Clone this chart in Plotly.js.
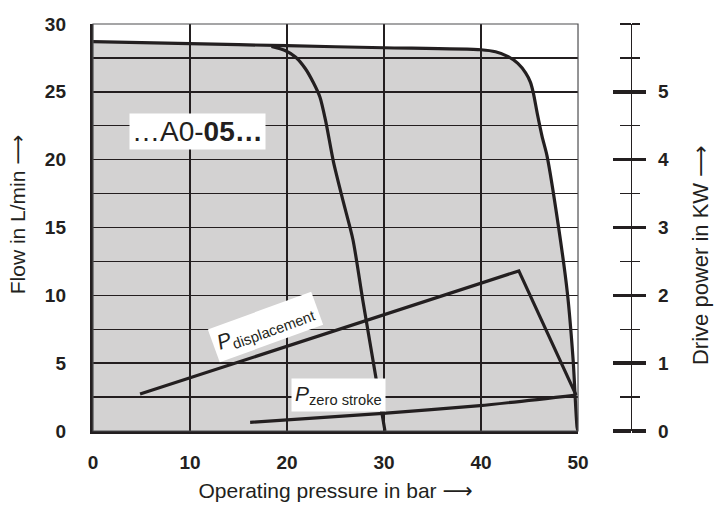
<!DOCTYPE html>
<html>
<head>
<meta charset="utf-8">
<script src="https://cdn.plot.ly/plotly-3.0.1.min.js"></script>
<style>html,body{margin:0;padding:0;background:#fff;}#chart{width:715px;height:514px;}</style>
</head>
<body>
<div id="chart"></div>
<script>
// Outer limit curve (max. flow) — pressure in bar, flow in L/min
var outerPressure = [0, 10, 20, 30, 40, 41.5, 42.8, 43.8, 44.6, 45.1, 45.4, 45.8, 46.3, 46.8, 48.0, 48.9, 49.5, 49.9, 50];
var outerFlow     = [28.7, 28.55, 28.4, 28.25, 28.1, 27.95, 27.6, 27.1, 26.4, 25.7, 24.9, 23.4, 21.7, 20.3, 15.0, 10.2, 5.2, 0.3, 0];

// ...A0-05... characteristic curve
var innerPressure = [18.4, 19.8, 20.9, 21.9, 22.7, 23.4, 24.0, 24.8, 25.8, 26.8, 27.8, 30.1];
var innerFlow     = [28.35, 28.05, 27.55, 26.7, 25.7, 24.6, 22.8, 19.8, 16.9, 14.1, 9.7, 0];

// Drive power curves (kW)
var dispPressure = [4.85, 43.9, 49.8];
var dispPower    = [0.545, 2.36, 0.53];
var zeroPressure = [16.2, 29.9, 39.9, 49.8];
var zeroPower    = [0.128, 0.261, 0.373, 0.53];

// Axis ticks
var xTicks     = [0, 10, 20, 30, 40, 50];
var yTicks     = [0, 5, 10, 15, 20, 25, 30];
var yHalfGrid  = [2.5, 7.5, 12.5, 17.5, 22.5, 27.5];
var y2Ticks    = [0, 1, 2, 3, 4, 5];

var INK = '#231f20';
var FONT = 'Liberation Sans, Arial, sans-serif';
var ARROW = '<span style="font-family:DejaVu Sans">\u27f6</span>';
var tickFont = {family: FONT, size: 19, color: INK, weight: 700};
var titleFont = {family: FONT, size: 21, color: INK};

var traces = [
  {x: outerPressure, y: outerFlow, type: 'scatter', mode: 'lines', fill: 'tozeroy',
   fillcolor: 'rgba(35,31,32,0.2)', line: {color: INK, width: 3.2, shape: 'spline', smoothing: 0.7},
   hoverinfo: 'skip', showlegend: false},
  {x: innerPressure, y: innerFlow, type: 'scatter', mode: 'lines',
   line: {color: INK, width: 3.2, shape: 'spline', smoothing: 0.7}, hoverinfo: 'skip', showlegend: false},
  {x: dispPressure, y: dispPower, yaxis: 'y2', type: 'scatter', mode: 'lines',
   line: {color: INK, width: 3.2}, hoverinfo: 'skip', showlegend: false},
  {x: zeroPressure, y: zeroPower, yaxis: 'y2', type: 'scatter', mode: 'lines',
   line: {color: INK, width: 3.2, shape: 'spline', smoothing: 0.5}, hoverinfo: 'skip', showlegend: false},
  {x: [null], y: [null], yaxis: 'y3', type: 'scatter', mode: 'lines', hoverinfo: 'skip', showlegend: false},
  {x: [null], y: [null], yaxis: 'y4', type: 'scatter', mode: 'lines', hoverinfo: 'skip', showlegend: false}
];

var layout = {
  width: 715, height: 514,
  margin: {l: 93, r: 84, t: 24, b: 83},
  paper_bgcolor: '#ffffff', plot_bgcolor: '#ffffff',
  showlegend: false,
  xaxis: {
    domain: [0, 0.9015], range: [0, 50], tickvals: xTicks, ticks: '',
    showgrid: true, gridcolor: INK, gridwidth: 1.4, zeroline: false,
    showline: true, linecolor: INK, linewidth: 3.2, layer: 'above traces',
    tickfont: tickFont, ticklabelstandoff: 12,
    title: {text: 'Operating pressure in bar ' + ARROW, font: titleFont, standoff: 12}
  },
  yaxis: {
    range: [0, 30], tickvals: yTicks, ticks: '',
    showgrid: true, gridcolor: INK, gridwidth: 1.4, zeroline: false,
    showline: true, linecolor: INK, linewidth: 3.2, layer: 'above traces',
    tickfont: tickFont, ticklabelstandoff: 20
  },
  yaxis4: {
    overlaying: 'y', anchor: 'x', side: 'left',
    range: [0, 30], tickvals: yHalfGrid, ticks: '', showticklabels: false,
    showgrid: true, gridcolor: INK, gridwidth: 1.4, zeroline: false, showline: false
  },
  yaxis2: {
    overlaying: 'y', anchor: 'free', position: 1, side: 'right',
    range: [0, 6], tickvals: y2Ticks, ticks: 'outside', ticklen: 14, tickwidth: 3.5, tickcolor: INK,
    minor: {ticks: 'outside', dtick: 0.5, tick0: 0, ticklen: 8, tickwidth: 1.2, tickcolor: INK},
    showline: true, linecolor: INK, linewidth: 1.2, showgrid: false, zeroline: false,
    tickfont: tickFont, ticklabelstandoff: 8
  },
  yaxis3: {
    overlaying: 'y', anchor: 'free', position: 1, side: 'left',
    range: [0, 6], tickvals: y2Ticks, ticks: 'outside', ticklen: 18, tickwidth: 3.5, tickcolor: INK,
    minor: {ticks: 'outside', dtick: 0.5, tick0: 0, ticklen: 11, tickwidth: 1.2, tickcolor: INK},
    showline: false, showgrid: false, zeroline: false, showticklabels: false
  },
  shapes: [
    {type: 'rect', xref: 'x domain', yref: 'y domain', x0: 0, x1: 1, y0: 0, y1: 1,
     line: {color: '#4d4d4f', width: 1.2}, layer: 'above'}
  ],
  annotations: [
    {x: -0.139, y: 0.533, xref: 'paper', yref: 'paper', showarrow: false, textangle: -90,
     xanchor: 'center', yanchor: 'middle',
     text: 'Flow in L/min ' + ARROW, font: titleFont},
    {x: 1.128, y: 0.432, xref: 'paper', yref: 'paper', showarrow: false, textangle: -90,
     xanchor: 'center', yanchor: 'middle',
     text: 'Drive power in KW ' + ARROW, font: {family: FONT, size: 22, color: INK}},
    {x: 10.8, y: 22.1, xref: 'x', yref: 'y', showarrow: false,
     text: '\u2026A0-<b>05\u2026</b>', font: {family: FONT, size: 28, color: INK},
     bgcolor: '#ffffff', borderpad: 2},
    {x: 17.8, y: 7.66, xref: 'x', yref: 'y', showarrow: false, textangle: -20,
     text: '<i>P</i><sub>displacement</sub>', font: {family: FONT, size: 21, color: INK},
     bgcolor: '#ffffff', borderpad: 4},
    {x: 25.3, y: 2.65, xref: 'x', yref: 'y', showarrow: false,
     text: '<i>P</i><sub>zero stroke</sub>', font: {family: FONT, size: 21, color: INK},
     bgcolor: '#ffffff', borderpad: 3}
  ]
};

Plotly.newPlot('chart', traces, layout, {displayModeBar: false, staticPlot: true});
</script>
</body>
</html>
